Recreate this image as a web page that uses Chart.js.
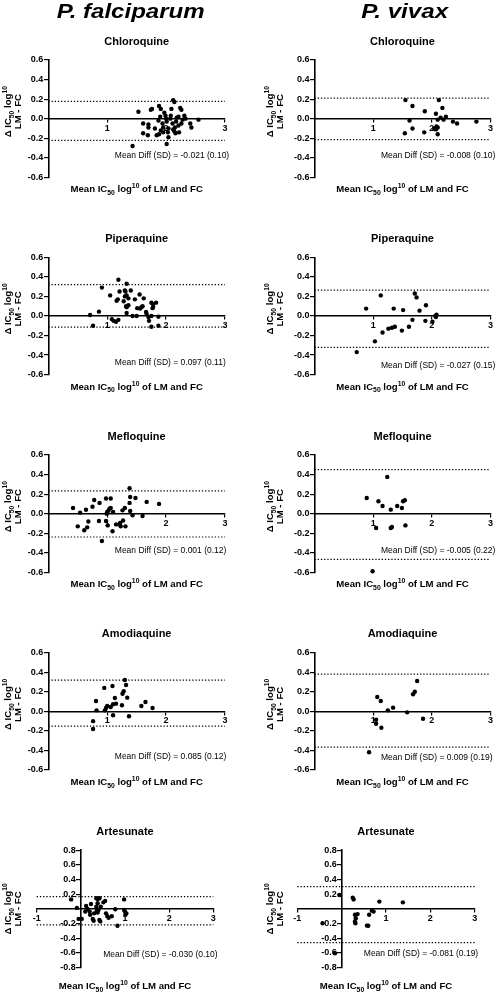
<!DOCTYPE html>
<html>
<head>
<meta charset="utf-8">
<script src="https://cdn.jsdelivr.net/npm/chart.js@4.4.0/dist/chart.umd.min.js"></script>
<style>
html, body { margin: 0; padding: 0; background: #fff; }
body { width: 496px; height: 992px; position: relative; overflow: hidden; }
canvas { position: absolute; }
</style>
</head>
<body>
<script>
const FONT = '"Liberation Sans", Arial, Helvetica, sans-serif'
Chart.defaults.font.family = FONT
Chart.defaults.color = '#000'

const drugNames = ['Chloroquine', 'Piperaquine', 'Mefloquine', 'Amodiaquine', 'Artesunate']
const speciesNames = ['P. falciparum', 'P. vivax']
const xAxisMin = [0, 0, 0, 0, -1]
const xAxisMax = [3, 3, 3, 3, 3]
const yAxisLimit = [0.6, 0.6, 0.6, 0.6, 0.8]

// mean of log10 IC50 (x) and difference LM - FC (y), per panel
const pfCqMean = [1.53, 1.74, 1.76, 1.61, 1.70, 1.70, 1.61, 1.69, 1.81, 1.43, 1.88, 1.91, 1.97, 1.90, 1.87, 1.88, 1.94, 1.95, 1.99, 2.01, 2.03, 2.01, 2.04, 2.09, 2.12, 2.14, 2.07, 2.08, 2.11, 2.12, 2.14, 2.15, 2.17, 2.18, 2.21, 2.22, 2.24, 2.26, 2.28, 2.31, 2.33, 2.26, 2.21, 2.41, 2.43, 2.55, 1.95, 2.04, 2.00, 1.91, 1.84, 2.16]
const pfCqDiff = [0.07, 0.09, 0.10, -0.05, -0.06, -0.09, -0.15, -0.17, -0.10, -0.28, 0.13, 0.10, 0.06, 0.02, -0.02, -0.16, -0.05, -0.09, 0.03, -0.03, -0.14, -0.26, -0.10, 0.10, 0.19, 0.17, 0.00, 0.03, -0.05, -0.11, -0.13, -0.09, -0.03, 0.01, 0.02, -0.14, 0.11, 0.09, -0.01, 0.03, 0.00, -0.05, -0.07, -0.05, -0.09, -0.01, -0.14, -0.19, 0.00, -0.12, -0.17, -0.15]
const pvCqMean = [1.55, 1.67, 1.62, 1.67, 1.54, 1.88, 1.87, 2.07, 2.12, 2.18, 2.10, 2.15, 2.20, 2.24, 2.08, 2.10, 2.07, 2.10, 2.36, 2.43, 2.76, 2.04]
const pvCqDiff = [0.19, 0.13, -0.02, -0.10, -0.15, 0.075, -0.14, 0.05, 0.19, 0.11, -0.01, 0.01, -0.01, 0.02, -0.08, -0.09, -0.11, -0.16, -0.03, -0.05, -0.03, -0.10]
const pfPpqMean = [0.71, 0.76, 0.86, 0.91, 1.05, 1.08, 1.11, 1.15, 1.19, 1.16, 1.18, 1.19, 1.21, 1.30, 1.31, 1.30, 1.33, 1.28, 1.32, 1.33, 1.36, 1.33, 1.33, 1.40, 1.36, 1.43, 1.47, 1.50, 1.51, 1.55, 1.56, 1.58, 1.60, 1.62, 1.66, 1.67, 1.70, 1.71, 1.75, 1.75, 1.78, 1.77, 1.78, 1.83, 1.75, 1.87, 1.87]
const pfPpqDiff = [0.01, -0.10, 0.044, 0.29, 0.21, -0.034, -0.05, -0.06, -0.04, 0.156, 0.17, 0.37, 0.25, 0.26, 0.25, 0.20, 0.21, 0.15, 0.10, 0.09, 0.11, 0.03, 0.33, 0.26, 0.18, 0.0, 0.17, 0.0, 0.08, 0.22, 0.075, 0.09, 0.10, 0.18, 0.04, 0.02, -0.01, -0.05, 0.0, 0.136, 0.12, 0.08, 0.095, 0.136, -0.11, -0.007, -0.10]
const pvPpqMean = [0.72, 0.88, 1.03, 1.13, 1.16, 1.26, 1.32, 1.35, 1.37, 1.49, 1.51, 1.61, 1.67, 1.71, 1.74, 1.79, 1.89, 1.90, 2.01, 2.06, 2.08, 2.07]
const pvPpqDiff = [-0.37, 0.075, -0.26, 0.21, -0.17, -0.13, -0.12, 0.075, -0.11, -0.15, 0.06, -0.11, -0.04, 0.23, 0.19, 0.054, -0.05, 0.11, -0.06, 0.0, 0.014, -0.01]
const pfMqMean = [0.42, 0.50, 0.54, 0.61, 0.64, 0.66, 0.68, 0.75, 0.78, 0.87, 0.86, 0.91, 0.98, 0.98, 0.99, 1.00, 1.02, 1.04, 1.01, 1.06, 1.06, 1.09, 1.15, 1.21, 1.23, 1.26, 1.27, 1.30, 1.31, 1.38, 1.38, 1.39, 1.39, 1.43, 1.48, 1.60, 1.67, 1.88, 1.10, 1.22]
const pfMqDiff = [0.058, -0.13, 0.01, -0.17, 0.04, -0.14, -0.08, 0.07, 0.14, 0.11, -0.075, -0.28, 0.155, -0.075, 0.0, 0.017, 0.03, 0.05, -0.12, 0.155, 0.058, -0.18, -0.11, -0.11, -0.13, 0.034, -0.07, 0.058, -0.13, 0.26, 0.11, 0.17, 0.027, -0.017, 0.16, -0.024, 0.12, 0.10, 0.017, -0.095]
const pvMqMean = [0.89, 1.09, 1.05, 1.16, 1.24, 1.30, 1.30, 1.32, 1.41, 1.49, 1.51, 1.54, 1.55, 0.99]
const pvMqDiff = [0.16, 0.127, -0.147, 0.079, 0.376, 0.041, -0.147, -0.137, 0.079, 0.058, 0.127, 0.137, -0.12, -0.59]
const pfAqMean = [0.76, 0.76, 0.81, 0.82, 0.95, 0.96, 0.98, 1.00, 1.06, 1.09, 1.10, 1.10, 1.13, 1.15, 1.25, 1.26, 1.28, 1.30, 1.32, 1.34, 1.37, 1.58, 1.65, 1.77]
const pfAqDiff = [-0.10, -0.18, 0.106, 0.01, 0.24, 0.01, 0.034, 0.055, 0.045, 0.26, -0.04, 0.072, 0.137, 0.079, 0.062, 0.18, 0.206, 0.32, 0.27, 0.14, -0.05, 0.055, 0.096, 0.034]
const pvAqMean = [1.07, 1.13, 1.34, 1.25, 1.05, 1.05, 1.14, 1.58, 1.68, 1.71, 1.75, 1.85, 0.93]
const pvAqDiff = [0.147, 0.106, 0.038, 0.01, -0.086, -0.127, -0.168, -0.01, 0.175, 0.2, 0.31, -0.075, -0.419]
const pfAsMean = [-0.22, -0.09, -0.05, 0.02, 0.10, 0.12, 0.15, 0.23, 0.27, 0.29, 0.30, 0.35, 0.38, 0.42, 0.35, 0.38, 0.36, 0.40, 0.38, 0.42, 0.44, 0.45, 0.51, 0.55, 0.57, 0.60, 0.63, 0.70, 0.78, 0.83, 0.98, 1.00, 1.03, 1.01, 0.98, 0.21, 0.20]
const pfAsDiff = [0.13, 0.014, -0.136, -0.136, -0.036, 0.04, 0.0, 0.068, -0.136, -0.16, -0.06, 0.145, 0.136, 0.145, 0.03, 0.077, -0.027, -0.014, -0.05, -0.15, -0.17, 0.03, 0.09, 0.11, -0.06, -0.10, -0.12, -0.10, -0.005, -0.23, 0.13, -0.036, -0.06, -0.08, -0.014, -0.08, -0.036]
const pvAsMean = [-0.43, -0.05, -0.15, 0.25, 0.27, 0.30, 0.32, 0.30, 0.36, 0.31, 0.57, 0.60, 0.62, 0.68, 0.72, 0.85, 1.38]
const pvAsDiff = [-0.195, 0.19, -0.605, 0.155, 0.13, -0.08, -0.127, -0.17, -0.07, -0.195, -0.227, -0.23, -0.08, -0.023, -0.036, 0.10, 0.09]

// panel order: Pf CQ, Pv CQ, Pf PPQ, Pv PPQ, Pf MQ, Pv MQ, Pf AQ, Pv AQ, Pf AS, Pv AS
const meanDiff = [-0.021, -0.008, 0.097, -0.027, 0.001, -0.005, 0.085, 0.009, -0.030, -0.081]
const sdDiff = [0.10, 0.10, 0.11, 0.15, 0.12, 0.22, 0.12, 0.19, 0.10, 0.19]
const upperLoA = [0.177, 0.21, 0.32, 0.264, 0.232, 0.451, 0.319, 0.38, 0.168, 0.305]
const lowerLoA = [-0.222, -0.215, -0.115, -0.322, -0.239, -0.468, -0.151, -0.367, -0.218, -0.459]

const panelMean = [pfCqMean, pvCqMean, pfPpqMean, pvPpqMean, pfMqMean, pvMqMean, pfAqMean, pvAqMean, pfAsMean, pvAsMean]
const panelDiff = [pfCqDiff, pvCqDiff, pfPpqDiff, pvPpqDiff, pfMqDiff, pvMqDiff, pfAqDiff, pvAqDiff, pfAsDiff, pvAsDiff]

// layout (pixels)
const canvasTop = [0, 197, 395, 592, 790]
const canvasH = [197, 197, 197, 197, 202]
const plotTop = [60, 257.3, 455, 652.7, 850.3]
const plotH = 117.3
const plotLeft = [[48.3, 66.5], [48.3, 66.5], [48.3, 66.5], [48.3, 66.5], [36.7, 49.3]]
const plotRight = [[225, 242.5], [225, 242.5], [225, 242.5], [225, 242.5], [213.3, 226.7]]
const meanTextDy = [95.7, 95.7, 105, 108.4, 95.7, 95.7, 104, 105, 104, 103]
const headerX = [130.7, 156.7]
const headerW = [148, 87]
const yTitleX = [[8, 17.5], [22, 32]]

const xTitleParts = [{ t: 'Mean IC' }, { t: '50', s: 'sub' }, { t: ' log' }, { t: '10', s: 'sup' }, { t: ' of LM and FC' }]
const yTitleParts1 = [{ t: 'Δ IC' }, { t: '50', s: 'sub' }, { t: ' log' }, { t: '10', s: 'sup' }]
const yTitleParts2 = [{ t: 'LM - FC' }]

function drawRich(ctx, parts, cx, cy) {
    const big = 'bold 9.6px ' + FONT
    const small = 'bold 6.8px ' + FONT
    let w = 0
    const widths = parts.map(p => {
        ctx.font = p.s ? small : big
        const pw = ctx.measureText(p.t).width
        w += pw
        return pw
    })
    let x = cx - w / 2
    const base = cy + 3.4
    ctx.textAlign = 'left'
    ctx.textBaseline = 'alphabetic'
    parts.forEach((p, k) => {
        ctx.font = p.s ? small : big
        const dy = p.s === 'sub' ? 2.6 : p.s === 'sup' ? -4 : 0
        ctx.fillText(p.t, x, base + dy)
        x += widths[k]
    })
}

const panelText = {
    id: 'panelText',
    afterDraw(chart, args, o) {
        const ctx = chart.ctx
        const a = chart.chartArea
        const cx = (a.left + a.right) / 2
        ctx.save()
        ctx.fillStyle = '#000'
        if (o.header) {
            ctx.save()
            ctx.font = 'italic bold 20px ' + FONT
            ctx.textAlign = 'center'
            ctx.textBaseline = 'alphabetic'
            const k = o.headerW / ctx.measureText(o.header).width
            ctx.translate(o.headerX, 18.3)
            ctx.scale(k, 1)
            ctx.fillText(o.header, 0, 0)
            ctx.restore()
        }
        ctx.font = 'bold 11px ' + FONT
        ctx.textAlign = 'center'
        ctx.textBaseline = 'middle'
        ctx.fillText(o.title, cx, a.top - 18.3)

        ctx.font = '8.5px ' + FONT
        ctx.textAlign = 'left'
        ctx.fillText(o.meanText, a.left + 66.5, a.top + o.meanDy)

        drawRich(ctx, xTitleParts, cx, a.bottom + o.xTitleDy)

        const cy = (a.top + a.bottom) / 2 + o.yTitleDy
        ctx.save()
        ctx.translate(o.yTitleX[0], cy)
        ctx.rotate(-Math.PI / 2)
        drawRich(ctx, yTitleParts1, 0, 0)
        ctx.restore()
        ctx.save()
        ctx.translate(o.yTitleX[1], cy)
        ctx.rotate(-Math.PI / 2)
        drawRich(ctx, yTitleParts2, 0, 0)
        ctx.restore()
        ctx.restore()
    }
}

for (let i = 0; i < 10; i++) {
    const r = Math.floor(i / 2)
    const c = i % 2
    const cv = document.createElement('canvas')
    cv.width = 248
    cv.height = canvasH[r]
    cv.style.left = c * 248 + 'px'
    cv.style.top = canvasTop[r] + 'px'
    document.body.appendChild(cv)

    const padTop = plotTop[r] - canvasTop[r]
    const xMin = xAxisMin[r]
    const xMax = xAxisMax[r]
    const lim = yAxisLimit[r]
    const isLast = r === 4
    const points = panelMean[i].map((x, k) => ({ x: x, y: panelDiff[i][k] }))
    const dotted = {
        borderColor: '#000',
        borderWidth: 1.2,
        borderDash: [1.3, 1.9],
        pointRadius: 0,
        fill: false,
        clip: false,
    }

    new Chart(cv, {
        type: 'scatter',
        data: {
            datasets: [
                {
                    data: points,
                    backgroundColor: '#000',
                    borderWidth: 0,
                    pointRadius: 2.2,
                    clip: false,
                },
                Object.assign({ type: 'line', data: [{ x: xMin, y: upperLoA[i] }, { x: xMax, y: upperLoA[i] }] }, dotted),
                Object.assign({ type: 'line', data: [{ x: xMin, y: lowerLoA[i] }, { x: xMax, y: lowerLoA[i] }] }, dotted),
            ],
        },
        options: {
            responsive: false,
            animation: false,
            events: [],
            layout: {
                padding: {
                    top: padTop,
                    bottom: canvasH[r] - padTop - plotH,
                    left: plotLeft[r][c],
                    right: 248 - plotRight[r][c],
                },
            },
            scales: {
                x: {
                    type: 'linear',
                    min: xMin,
                    max: xMax,
                    position: { y: 0 },
                    border: { display: true, color: '#000', width: 1.6 },
                    grid: { display: true, drawOnChartArea: false, drawTicks: true, tickLength: 3, color: '#000', lineWidth: 1.2 },
                    ticks: {
                        stepSize: 1,
                        padding: 1,
                        autoSkip: false,
                        maxRotation: 0,
                        color: '#000',
                        font: { size: 9, weight: 'bold' },
                        callback: v => (v === 0 ? null : String(v)),
                    },
                },
                y: {
                    type: 'linear',
                    min: -lim,
                    max: lim,
                    position: { x: 0 },
                    border: { display: true, color: '#000', width: 1.6 },
                    grid: { display: true, drawOnChartArea: false, drawTicks: true, tickLength: 4, color: '#000', lineWidth: 1.2 },
                    ticks: {
                        stepSize: 0.2,
                        autoSkip: false,
                        color: '#000',
                        font: { size: 9, weight: 'bold' },
                        // labels sit on the axis line when it is value-positioned; two spaces leave room for the tick
                        callback: v => (isLast && Math.abs(v) < 1e-9 ? null : v.toFixed(1) + '  '),
                    },
                },
            },
            plugins: {
                legend: { display: false },
                tooltip: { enabled: false },
                panelText: {
                    header: r === 0 ? speciesNames[c] : null,
                    headerX: headerX[c],
                    headerW: headerW[c],
                    title: drugNames[r],
                    meanText: 'Mean Diff (SD) = ' + meanDiff[i].toFixed(3) + ' (' + sdDiff[i].toFixed(2) + ')',
                    meanDy: meanTextDy[i],
                    xTitleDy: isLast ? 18 : 11.5,
                    yTitleX: yTitleX[c],
                    yTitleDy: isLast ? 0 : -7,
                },
            },
        },
        plugins: [panelText],
    })
}
</script>
</body>
</html>
